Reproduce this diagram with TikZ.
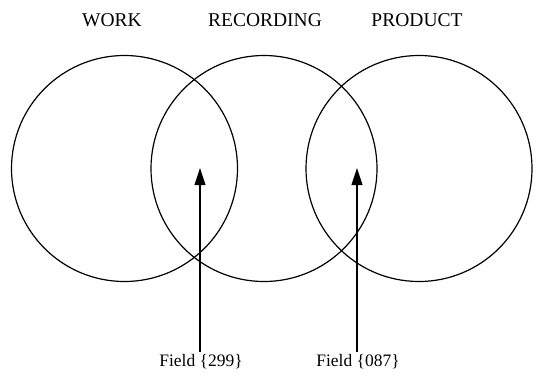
\documentclass[tikz,border=0pt]{standalone}
\usepackage{fontspec}
\setmainfont{Liberation Serif}
\usetikzlibrary{arrows.meta}

\tikzset{
  ring/.style={draw, circle, line width=1.2pt, minimum size=226pt, inner sep=0pt, outer sep=0pt},
  heading/.style={font=\fontsize{19.5}{21}\selectfont},
  fieldlabel/.style={font=\fontsize{17.5}{19}\selectfont, inner sep=3pt},
  pointer/.style={line width=1.1pt, -{Triangle[width=11pt,length=17pt]}}
}

\begin{document}
\begin{tikzpicture}[x=1pt,y=-1pt]
\useasboundingbox (0,0) rectangle (537,377);
\node[ring] (work) at (124.5,168.5) {};
\node[ring] (recording) at (264,168.5) {};
\node[ring] (product) at (419,168.5) {};
\node[heading] (worklabel) at (112,20) {WORK};
\node[heading] (recordinglabel) at (265,20) {RECORDING};
\node[heading] (productlabel) at (417,20) {PRODUCT};
\node[fieldlabel] (field299) at (201,362) {Field \{299\}};
\node[fieldlabel] (field087) at (358,362) {Field \{087\}};
\coordinate (tip299) at (200,168);
\coordinate (tip087) at (357,168);
\draw[pointer] (field299.north -| tip299) -- (tip299);
\draw[pointer] (field087.north -| tip087) -- (tip087);
\end{tikzpicture}
\end{document}
